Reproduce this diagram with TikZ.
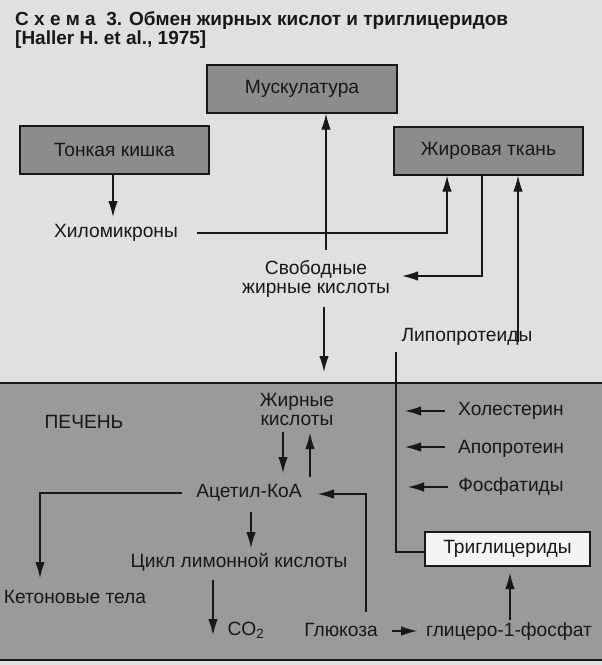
\documentclass[tikz,border=0pt]{standalone}
\usepackage{fontspec}
\setmainfont{Liberation Sans}
\usetikzlibrary{arrows.meta}
\definecolor{pagebg}{HTML}{E0E0E0}
\definecolor{boxgray}{HTML}{8C8C8C}
\definecolor{livergray}{HTML}{9A9A9A}
\definecolor{ink}{HTML}{181818}
\definecolor{trigwhite}{HTML}{F4F4F4}
\begin{document}
\begin{tikzpicture}[x=1pt,y=-1pt,
  every node/.style={text=ink,font=\fontsize{19.2}{19}\selectfont},
  organ/.style={draw=ink,line width=1.3pt,fill=boxgray,minimum width=189pt,minimum height=48pt,inner sep=0pt},
  lbl/.style={inner sep=0pt,align=center},
  conn/.style={draw=ink,line width=1.2pt},
  arr/.style={conn,-{Latex[length=16pt,width=9.5pt]}}]
\useasboundingbox (0,0) rectangle (602,665);
\fill[pagebg] (0,0) rectangle (602,665);
% liver area
\draw[ink,line width=1.2pt,fill=livergray] (-2,383) rectangle (604,660);
% title
\node[lbl,anchor=west,font=\bfseries\fontsize{19}{18}\selectfont] (title1) at (15,21) {С х е м а \ 3. Обмен жирных кислот и триглицеридов};
\node[lbl,anchor=west,font=\bfseries\fontsize{19}{18}\selectfont] (title2) at (15,40) {[Haller H. et al., 1975]};
% organ boxes
\node[organ,minimum width=190pt] (musc) at (302,89) {Мускулатура};
\node[organ] (tonk) at (114.5,150) {Тонкая кишка};
\node[organ] (zhir) at (488.5,151) {Жировая ткань};
% text nodes outside liver
\node[lbl] (hilo) at (116,233) {Хиломикроны};
\node[lbl] (szk) at (316,279) {Свободные\\жирные кислоты};
\node[lbl] (lipo) at (467,337) {Липопротеиды};
% liver nodes
\node[lbl] (pech) at (84,422) {ПЕЧЕНЬ};
\node[lbl] (zk) at (297,409) {Жирные\\кислоты};
\node[lbl] (acet) at (249,493) {Ацетил-КоА};
\node[lbl] (cikl) at (239,562) {Цикл лимонной кислоты};
\node[lbl] (keto) at (75,597) {Кетоновые тела};
\node[lbl] (co2) at (246,630) {CO\textsubscript{2}};
\node[lbl] (gluk) at (341,630) {Глюкоза};
\node[lbl] (glic) at (509,632) {глицеро-1-фосфат};
\node[draw=ink,line width=1.2pt,fill=trigwhite,minimum width=165pt,minimum height=34pt,inner sep=0pt] (trig) at (507.5,549) {Триглицериды};
\node[lbl] (hol) at (511,411) {Холестерин};
\node[lbl] (apo) at (511,449) {Апопротеин};
\node[lbl] (fos) at (511,487) {Фосфатиды};
% coordinates for free ends
\coordinate (hiloTip) at (113,217);
\coordinate (hiloOut) at (197,233);
\coordinate (hiloUp) at (447,233);
\coordinate (muscFrom) at (326,250);
\coordinate (zhirDown) at (482,276);
\coordinate (szkIn) at (402,276);
\coordinate (lipoUp) at (518,342);
\coordinate (szkOut) at (324,307);
\coordinate (liverIn) at (324,372);
\coordinate (lipoOut) at (396,352);
\coordinate (lipoCorner) at (396,552);
\coordinate (holFrom) at (445,411);
\coordinate (holTo) at (405,411);
\coordinate (apoFrom) at (445,447);
\coordinate (apoTo) at (405,447);
\coordinate (fosFrom) at (448,487);
\coordinate (fosTo) at (408,487);
\coordinate (zkDownA) at (283,432);
\coordinate (zkDownB) at (283,473);
\coordinate (zkUpA) at (310,477);
\coordinate (zkUpB) at (310,433);
\coordinate (acetL) at (182,493);
\coordinate (ketoTip) at (40,578);
\coordinate (acetD1) at (251,512);
\coordinate (acetD2) at (251,548);
\coordinate (co2A) at (213,580);
\coordinate (co2B) at (213,635);
\coordinate (glukUp) at (366,612);
\coordinate (glukCorner) at (366,494);
\coordinate (acetIn) at (318,494);
\coordinate (glukR) at (392,631);
\coordinate (glicL) at (417,631);
\coordinate (glicUp) at (510,620);
\coordinate (trigIn) at (510,573);
% connectors
\draw[arr] (tonk.south -| hiloTip) -- (hiloTip);
\draw[arr] (hiloOut) -- (hiloUp) -- (hiloUp |- zhir.south);
\draw[arr] (muscFrom) -- (muscFrom |- musc.south);
\draw[arr] (zhir.south -| zhirDown) -- (zhirDown) -- (szkIn);
\draw[arr] (lipoUp) -- (lipoUp |- zhir.south);
\draw[arr] (szkOut) -- (liverIn);
\draw[conn] (lipoOut) -- (lipoCorner) -- (lipoCorner -| trig.west);
\draw[arr] (holFrom) -- (holTo);
\draw[arr] (apoFrom) -- (apoTo);
\draw[arr] (fosFrom) -- (fosTo);
\draw[arr] (zkDownA) -- (zkDownB);
\draw[arr] (zkUpA) -- (zkUpB);
\draw[arr] (acetL) -| (ketoTip);
\draw[arr] (acetD1) -- (acetD2);
\draw[arr] (co2A) -- (co2B);
\draw[arr] (glukUp) -- (glukCorner) -- (acetIn);
\draw[arr] (glukR) -- (glicL);
\draw[arr] (glicUp) -- (trigIn);
\end{tikzpicture}
\end{document}
